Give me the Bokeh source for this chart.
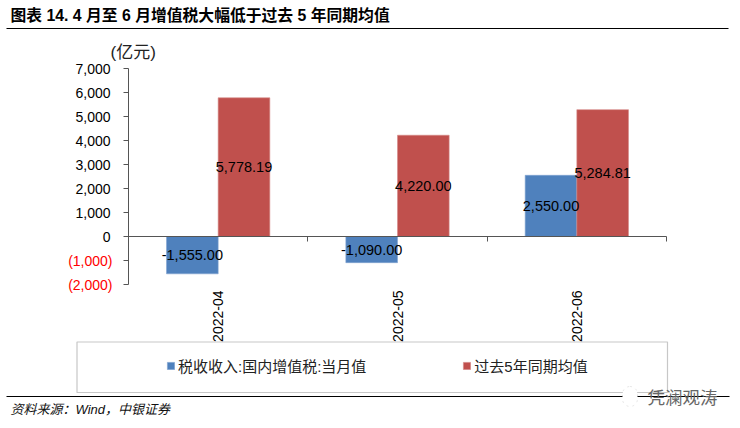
from math import pi

from bokeh.core.properties import value
from bokeh.embed import file_html
from bokeh.models import (BoxAnnotation, ColumnDataSource, FixedTicker, Label, Legend, LegendItem,
                          LinearAxis, Range1d)
from bokeh.plotting import figure
from bokeh.resources import INLINE
from bokeh.transform import dodge

months = ["2022-04", "2022-05", "2022-06"]
vat_month = [-1555.00, -1090.00, 2550.00]
avg_5y = [5778.19, 4220.00, 5284.81]

y_ticks = [-2000, -1000, 0, 1000, 2000, 3000, 4000, 5000, 6000, 7000]
pos_ticks = [t for t in y_ticks if t >= 0]
neg_ticks = [t for t in y_ticks if t < 0]
x_edges = [0, 1, 2, 3]

NUM_FONT = '"Liberation Sans"'
CJK_FONT = '"Liberation Sans", "Noto Sans CJK SC"'
BLUE = "#4F81BD"
RED = "#C0504D"
AXIS = "#555555"

# annotations get clipped to the frame, so the frame fills the whole canvas
# and the axes are pinned where the plot area sits in the page
W, H = 736, 424
AXIS_LEFT, AXIS_RIGHT, AXIS_TOP, AXIS_BOTTOM = 128, 666, 68, 284
px_per_cat = (AXIS_RIGHT - AXIS_LEFT) / len(months)
px_per_val = (AXIS_BOTTOM - AXIS_TOP) / (y_ticks[-1] - y_ticks[0])
x_range = Range1d(-AXIS_LEFT / px_per_cat, (W - AXIS_LEFT) / px_per_cat)
y_range = Range1d(y_ticks[0] - (H - AXIS_BOTTOM) / px_per_val, y_ticks[-1] + AXIS_TOP / px_per_val)

x = [i + 0.5 for i in range(len(months))]
src = ColumnDataSource(dict(
    x=x,
    vat=vat_month,
    avg=avg_5y,
    vat_mid=[v / 2 for v in vat_month],
    avg_mid=[v / 2 for v in avg_5y],
    vat_text=[f"{v:,.2f}" for v in vat_month],
    avg_text=[f"{v:,.2f}" for v in avg_5y],
))

p = figure(width=W, height=H, output_backend="svg", toolbar_location=None,
           x_range=x_range, y_range=y_range, x_axis_location=None, y_axis_location=None,
           min_border=0)
p.grid.visible = False
p.outline_line_color = None

BAR_W = 0.288
r1 = p.vbar(x=dodge("x", -BAR_W / 2, range=p.x_range), top="vat", bottom=0, width=BAR_W, source=src,
            fill_color=BLUE, line_color="#7FA3D0", line_width=0.6)
r2 = p.vbar(x=dodge("x", BAR_W / 2, range=p.x_range), top="avg", bottom=0, width=BAR_W, source=src,
            fill_color=RED, line_color="#D58A88", line_width=0.6)

for col, text_col, off in (("vat_mid", "vat_text", -BAR_W / 2), ("avg_mid", "avg_text", BAR_W / 2)):
    p.text(x=dodge("x", off, range=p.x_range), y=col, text=text_col, source=src, text_align="center",
           text_baseline="middle", text_font=value(NUM_FONT), text_font_size="14.5px", text_color="#000000")

# left axis: positive ticks are labelled, negative ones are minor ticks with red labels below
y_axis = LinearAxis(ticker=FixedTicker(ticks=pos_ticks, minor_ticks=neg_ticks), fixed_location=0,
                    bounds=(y_ticks[0], y_ticks[-1]),
                    major_label_overrides={t: f"{t:,}" for t in pos_ticks},
                    major_label_text_font=NUM_FONT, major_label_text_font_size="14px",
                    major_label_text_color="#000000", major_label_standoff=13,
                    axis_line_color=AXIS, major_tick_line_color=AXIS, major_tick_in=0, major_tick_out=5,
                    minor_tick_line_color=AXIS, minor_tick_in=0, minor_tick_out=5)
p.add_layout(y_axis, "left")

for t in neg_ticks:
    p.add_layout(Label(x=112, x_units="screen", y=t, y_units="data", text=f"({-t:,})", text_align="right",
                       text_baseline="middle", text_font=NUM_FONT, text_font_size="14px", text_color="#FF0000"))

# zero line with ticks at the category edges
x_zero = LinearAxis(ticker=FixedTicker(ticks=[], minor_ticks=x_edges), fixed_location=0, bounds=(0, 3),
                    axis_line_color=AXIS, minor_tick_line_color=AXIS, minor_tick_in=0, minor_tick_out=5)
p.add_layout(x_zero, "below")

# month labels down at the low end
x_axis = LinearAxis(ticker=FixedTicker(ticks=x), fixed_location=y_ticks[0], bounds=(0, 3),
                    major_label_overrides={c: m for c, m in zip(x, months)},
                    major_label_orientation=pi / 2, major_label_text_font=NUM_FONT,
                    major_label_text_font_size="14px", major_label_standoff=0, major_label_text_color="#000000",
                    axis_line_color=None, major_tick_line_color=None, minor_tick_line_color=None)
p.add_layout(x_axis, "below")


def text(s, px, py, **kw):
    # px, py are page pixels, screen y counts up from the bottom
    p.add_layout(Label(x=px, y=H - py, x_units="screen", y_units="screen",
                       text=s, text_baseline="middle", **kw))


def box(left, right, top, bottom, **kw):
    p.add_layout(BoxAnnotation(left=left, right=right, top=H - top, bottom=H - bottom,
                               left_units="screen", right_units="screen", top_units="screen", bottom_units="screen",
                               **kw))


text("图表 14. 4 月至 6 月增值税大幅低于过去 5 年同期均值", 10, 15, text_font=CJK_FONT, text_font_size="15.8px",
     text_font_style="bold", text_color="#000000")
box(6, 728, 27.5, 28.5, fill_color="#000000", fill_alpha=1, line_color=None)
text("(亿元)", 110, 52, text_font=CJK_FONT, text_font_size="17px", text_color="#222222")

box(76.5, 667, 341.5, 392, fill_color="#FFFFFF", fill_alpha=0, line_color="#444444", line_width=1.2)
box(6, 729, 395.5, 396.5, fill_color="#000000", fill_alpha=1, line_color=None)
text("资料来源：Wind，中银证券", 10, 409, text_font=CJK_FONT, text_font_size="13px", text_font_style="italic",
     text_color="#111111")

legend = Legend(items=[LegendItem(label="税收收入:国内增值税:当月值", renderers=[r1]),
                       LegendItem(label="过去5年同期均值", renderers=[r2])],
                orientation="horizontal", location=(166, H - 376), padding=0, margin=0, spacing=96,
                label_standoff=3, glyph_width=9, glyph_height=9, border_line_color=None,
                background_fill_alpha=0, label_text_font=CJK_FONT, label_text_font_size="15px",
                label_text_color="#222222")
p.add_layout(legend, "center")

# watermark over the source rule
box(622, 637, 386, 406, fill_color="#FFFFFF", fill_alpha=1, line_color="#999999", line_width=0.8,
    line_dash="dotted", border_radius=8)
text("凭澜观涛", 647, 396, text_font='"Noto Sans CJK SC"', text_font_size="17.5px", text_color="#666666")

open("out.html", "w").write(file_html(p, INLINE))
